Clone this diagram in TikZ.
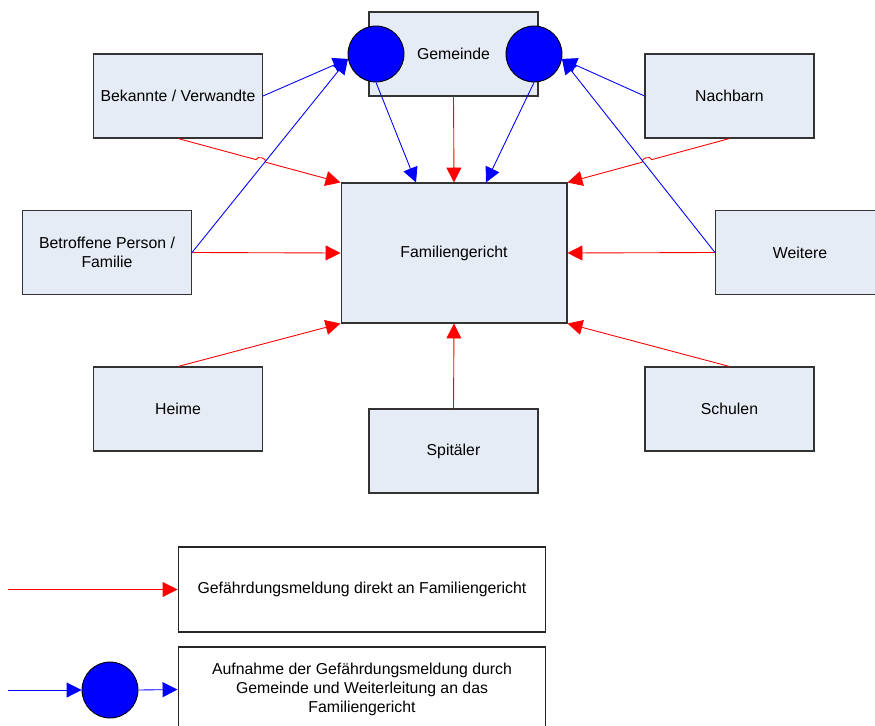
\documentclass[tikz,border=0pt]{standalone}
\usepackage{fontspec}
\setmainfont{Liberation Sans}
\usetikzlibrary{arrows.meta,calc}

\definecolor{boxfill}{HTML}{E6ECF6}

\begin{document}
\begin{tikzpicture}[x=0.02cm,y=-0.02cm,
    font=\fontsize{9}{11}\selectfont,
    partybox/.style={draw=black!80,fill=boxfill,line width=0.6pt,minimum width=3.38cm,minimum height=1.68cm,align=center,inner sep=0pt},
    courtbox/.style={partybox,minimum width=4.52cm,minimum height=2.8cm},
    hub/.style={circle,draw=black,fill=blue,line width=0.5pt,minimum size=1.12cm,inner sep=0pt},
    legbox/.style={draw=black!85,line width=0.6pt,minimum width=7.36cm,minimum height=1.7cm,align=center,inner sep=0pt},
    directln/.style={draw=red,line width=0.5pt,-{Triangle[length=8.5pt,width=8.5pt]}},
    relayln/.style={draw=blue,line width=0.5pt,-{Triangle[length=8.5pt,width=8.5pt]}}]
        \clip (0,0) rectangle (875,726);
        % boxes
        \node[partybox] (gem) at (453.5,54) {Gemeinde};
        \node[hub] (lc) at (376,54) {};
        \node[hub] (rc) at (534,54) {};
        \node[partybox] (bek) at (178,96) {Bekannte / Verwandte};
        \node[partybox] (nach) at (729.5,96) {Nachbarn};
        \node[partybox] (betr) at (107,252.5) {Betroffene Person /\\Familie};
        \node[partybox] (weit) at (800,252.5) {Weitere};
        \node[courtbox] (fam) at (454,253) {Familiengericht};
        \node[partybox] (heime) at (178,409) {Heime};
        \node[partybox] (spit) at (453.5,451) {Spit\"aler};
        \node[partybox] (schul) at (729.5,409) {Schulen};
        % red: direkt
        \path (bek.south) -- (fam.north west) coordinate[pos=0.48] (j1a) coordinate[pos=0.54] (j1b);
        \draw[directln] (bek.south) -- (j1a) .. controls ($(j1a)!2.5pt!90:(j1b)$) and ($(j1b)!2.5pt!-90:(j1a)$) .. (j1b) -- (fam.north west);
        \path (nach.south) -- (fam.north east) coordinate[pos=0.48] (j2a) coordinate[pos=0.54] (j2b);
        \draw[directln] (nach.south) -- (j2a) .. controls ($(j2a)!2.5pt!-90:(j2b)$) and ($(j2b)!2.5pt!90:(j2a)$) .. (j2b) -- (fam.north east);
        \draw[directln] (gem.south) -- (fam.north);
        \draw[directln] (betr.east) -- (fam.west);
        \draw[directln] (weit.west) -- (fam.east);
        \draw[directln] (heime.north) -- (fam.south west);
        \draw[directln] (spit.north) -- (fam.south);
        \draw[directln] (schul.north) -- (fam.south east);
        % blue: via Gemeinde
        \draw[relayln] (bek.east) -- (lc.190);
        \draw[relayln] (betr.east) -- (lc.190);
        \draw[relayln] (nach.west) -- (rc.350);
        \draw[relayln] (weit.west) -- (rc.350);
        \draw[relayln] (lc.south) -- ($(fam.north)+(-38,0)$);
        \draw[relayln] (rc.south) -- ($(fam.north)+(32,0)$);
        % legend
        \node[legbox] (leg1) at (362,589.5) {Gef\"ahrdungsmeldung direkt an Familiengericht};
        \node[legbox] (leg2) at (362,689.5) {Aufnahme der Gef\"ahrdungsmeldung durch\\Gemeinde und Weiterleitung an das\\Familiengericht};
        \node[hub] (legc) at (110,690) {};
        \coordinate (lr) at (8,589.5);
        \coordinate (lb) at (8,690);
        \draw[directln] (lr) -- (leg1.west);
        \draw[relayln] (lb) -- (legc.west);
        \draw[relayln] (legc.east) -- (leg2.west);
    \end{tikzpicture}
\end{document}
